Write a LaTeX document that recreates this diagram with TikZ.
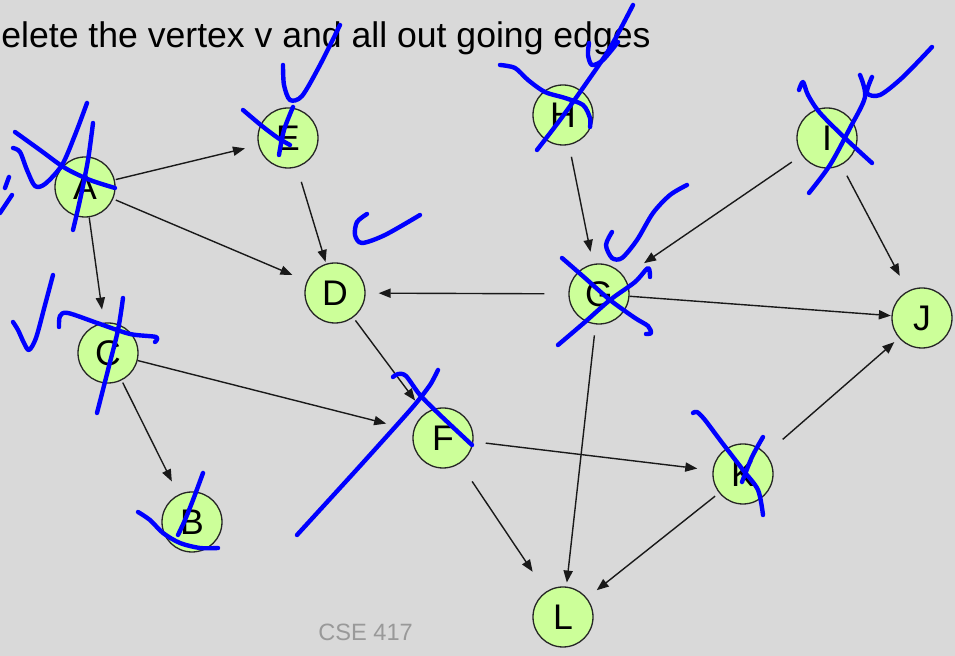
\documentclass[tikz,border=0pt]{standalone}
\usepackage{fontspec}
\setmainfont{Liberation Sans}
\usetikzlibrary{arrows.meta}

\definecolor{slidebg}{RGB}{217,217,217}
\definecolor{vertfill}{RGB}{204,255,153}
\definecolor{inkblue}{RGB}{0,0,255}

\begin{document}
\begin{tikzpicture}[
    x=0.5pt, y=-0.5pt,
    vert/.style={circle, draw=black!85, line width=0.65pt, fill=vertfill, minimum size=30pt, inner sep=0pt, font=\fontsize{17.8}{20}\selectfont},
    arr/.style={-{Triangle[length=6pt,width=4.6pt]}, line width=0.7pt, black!90},
    ink/.style={inkblue, line width=2.2pt, line cap=round, line join=round}
]
\fill[slidebg] (0,0) rectangle (955,656);
\useasboundingbox (0,0) rectangle (955,656);

\node[anchor=base west, inner sep=0pt, font=\fontsize{17.8}{21}\selectfont] (title) at (1,48) {elete the vertex v and all out going edges};
\node[anchor=base west, inner sep=0pt, text=black!40, font=\fontsize{11.8}{14}\selectfont] (footer) at (318,641) {CSE 417};

\node[vert] (A) at (85,187) {A};
\node[vert] (E) at (288,138) {E};
\node[vert] (D) at (335,293) {D};
\node[vert] (C) at (108,353) {C};
\node[vert] (B) at (192,522) {B};
\node[vert] (F) at (443,438) {F};
\node[vert] (H) at (563,115) {H};
\node[vert] (G) at (599,294) {G};
\node[vert] (I) at (827,138) {I};
\node[vert] (J) at (922,318) {J};
\node[vert] (K) at (743,474) {K};
\node[vert] (L) at (563,617) {L};

\draw[arr, shorten <=0.5pt, shorten >=6.8pt] (A) -- (E);
\draw[arr, shorten <=1.4pt, shorten >=7.8pt] (A) -- (D);
\draw[arr, shorten <=0pt, shorten >=6.6pt] (A) -- (C);
\draw[arr, shorten <=7.6pt, shorten >=0.9pt] (E) -- (D);
\draw[arr, shorten <=1.8pt, shorten >=8pt] (D) -- (F);
\draw[arr, shorten <=0pt, shorten >=14pt] (C) -- (F);
\draw[arr, shorten <=1.2pt, shorten >=7.3pt] (C) -- (B);
\draw[arr, shorten <=6.2pt, shorten >=7.7pt] (F) -- (K);
\draw[arr, shorten <=10.8pt, shorten >=11.9pt] (F) -- (L);
\draw[arr, shorten <=5.5pt, shorten >=2pt] (G) -- (L);
\draw[arr, shorten <=2.5pt, shorten >=6.2pt] (K) -- (L);
\draw[arr, shorten <=11pt, shorten >=3pt] (K) -- (J);
\draw[arr, shorten <=0pt, shorten >=0.3pt] (G) -- (J);
\draw[arr, shorten <=12pt, shorten >=6.5pt] (G) -- (D);
\draw[arr, shorten <=6pt, shorten >=6.2pt] (H) -- (G);
\draw[arr, shorten <=6pt, shorten >=12pt] (I) -- (G);
\draw[arr, shorten <=6pt, shorten >=8.5pt] (I) -- (J);

% pen marks
\draw[ink] plot[smooth] coordinates {(15,132) (40,150) (65,168) (90,180) (115,188)};
\draw[ink] plot[smooth] coordinates {(13,148) (20,152) (27,170) (35,186) (45,184) (62,165) (75,135) (87,103)};
\draw[ink] plot[smooth] coordinates {(93,123) (88,160) (80,200) (73,230)};
\draw[ink] (9,177) -- (5,188);
\draw[ink] (12,195) -- (0,213);

\draw[ink] plot[smooth] coordinates {(13,322) (18,330) (24,343) (29,350) (36,338) (45,305) (53,275)};
\draw[ink] plot[smooth] coordinates {(59,327) (60,316) (68,313) (100,324) (130,334) (156,337) (155,342)};
\draw[ink] plot[smooth] coordinates {(123,298) (118,330) (108,370) (97,413)};

\draw[ink] plot[smooth] coordinates {(283,65) (284,85) (290,100) (302,96) (320,65) (340,25)};
\draw[ink] plot[smooth] coordinates {(243,110) (262,126) (278,138) (290,145)};
\draw[ink] plot[smooth] coordinates {(293,107) (284,130) (279,155)};

\draw[ink] plot[smooth] coordinates {(367,214) (357,222) (355,235) (362,243) (385,235) (420,215)};

\draw[ink] plot[smooth] coordinates {(500,65) (515,68) (528,80) (545,92) (565,98) (583,105) (590,118) (590,127)};
\draw[ink] plot[smooth] coordinates {(537,150) (560,120) (585,85) (610,48) (633,5)};
\draw[ink] plot[smooth] coordinates {(589,43) (588,55) (592,65) (603,60) (618,42)};

\draw[ink] plot[smooth] coordinates {(799,90) (803,82) (808,95) (820,113) (847,140) (872,163)};
\draw[ink] plot[smooth] coordinates {(809,193) (830,165) (850,128) (865,97) (860,75)};
\draw[ink] plot[smooth] coordinates {(872,77) (867,93) (880,95) (903,77) (932,47)};

\draw[ink] plot[smooth] coordinates {(612,232) (606,245) (612,258) (622,258) (637,240) (653,213) (670,195) (687,185)};
\draw[ink] plot[smooth] coordinates {(562,258) (585,278) (610,300) (635,318) (648,326) (651,333) (646,334)};
\draw[ink] plot[smooth] coordinates {(558,345) (585,322) (610,300) (635,282) (648,268) (650,277)};

\draw[ink] plot[smooth] coordinates {(138,512) (150,520) (163,533) (180,543) (200,548) (218,548)};
\draw[ink] plot[smooth] coordinates {(203,473) (193,500) (185,520) (178,535)};

\draw[ink] plot[smooth, tension=0.4] coordinates {(297,535) (360,466) (412,408) (430,385) (438,370)};
\draw[ink] plot[smooth] coordinates {(393,377) (398,374) (406,376) (420,395) (440,415) (472,445)};

\draw[ink] plot[smooth] coordinates {(693,413) (697,412) (705,420) (720,440) (743,470) (758,490) (763,515)};
\draw[ink] plot[smooth] coordinates {(763,437) (752,457) (742,482)};
\end{tikzpicture}
\end{document}
